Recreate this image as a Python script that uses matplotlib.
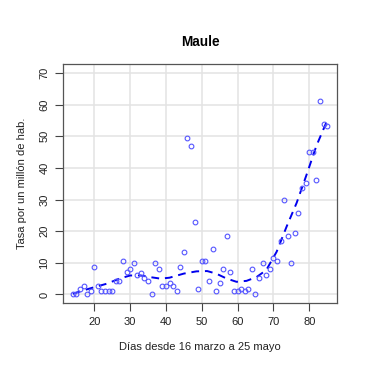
import numpy as np
import matplotlib
matplotlib.use('Agg')
import matplotlib.pyplot as plt

plt.rcParams['font.family'] = ['Liberation Sans', 'DejaVu Sans']

# dias desde 16 marzo
dias = list(range(14, 86))
tasa = [0, 0, 1.7, 2.6, 0, 1, 8.8, 2.6, 1, 1,
        1, 1, 4.4, 4.4, 10.6, 7, 8, 9.8, 6.2, 6.9,
        5.2, 4.4, 0, 9.8, 8, 2.6, 2.6, 3.5, 2.6, 1,
        8.8, 13.3, 49.5, 46.9, 22.9, 1.7, 10.6, 10.6, 4.4, 14.3,
        1, 3.5, 8, 18.5, 7, 1, 1, 1.7, 1, 1.7,
        8, 0, 5.3, 9.8, 6.2, 8, 11.5, 10.6, 16.8, 29.9,
        18.5, 9.8, 19.5, 25.7, 33.7, 35.4, 45.2, 45.2, 36.2, 61.1,
        54, 53.2]

# curva suavizada
suav_x = [14, 17, 20, 23.5, 27, 30, 33, 35.5, 38.5, 41, 45, 48.5, 51.5,
          54, 57, 59.7, 62.5, 65.3, 68, 70.9, 73.7, 76.5, 79.3, 82, 85]
suav_y = [0.2, 1.3, 2.3, 3.4, 5, 6, 6, 5.5, 5, 5.3, 6.6, 7.3, 7.4,
          6.6, 5, 4, 4.3, 5.5, 7.7, 13.5, 21.5, 29, 38, 47, 55]

xticks = [20, 30, 40, 50, 60, 70, 80]
yticks = [0, 10, 20, 30, 40, 50, 60, 70]

fig = plt.figure(figsize=(3.82, 3.88), dpi=100)
ax = fig.add_axes([0.164, 0.2183, 0.719, 0.616])

for xt in xticks:
    ax.axvline(xt, color='#e3e3e3', lw=1.1, zorder=0)
for yt in yticks:
    ax.axhline(yt, color='#e3e3e3', lw=1.1, zorder=0)

ax.plot(dias, tasa, 'o', mfc='none', mec='#5555ff', ms=3.4, mew=0.8, zorder=3)
ax.plot(suav_x, suav_y, '--', color='#0000ee', lw=1.4, dashes=(4, 3), zorder=2)

ax.set_xlim(11.16, 87.84)
ax.set_ylim(-2.8, 72.8)
ax.set_xticks(xticks)
ax.set_yticks(yticks)
ax.tick_params(direction='out', length=5.5, width=0.8, color='#444444',
               labelsize=8, labelcolor='#222222')
ax.tick_params(axis='x', pad=4.5)
ax.tick_params(axis='y', pad=4)
for lab in ax.get_yticklabels():
    lab.set_rotation(90)
    lab.set_va('center')
for s in ax.spines.values():
    s.set_color('#555555')
    s.set_linewidth(0.9)

ax.set_title('Maule', fontsize=9.8, fontweight='bold', pad=13)
ax.set_xlabel('Días desde 16 marzo a 25 mayo', fontsize=8, color='#222222', labelpad=11)
ax.set_ylabel('Tasa por un millón de hab.', fontsize=8, color='#222222', labelpad=9)

fig.savefig('out.png', dpi=100)
